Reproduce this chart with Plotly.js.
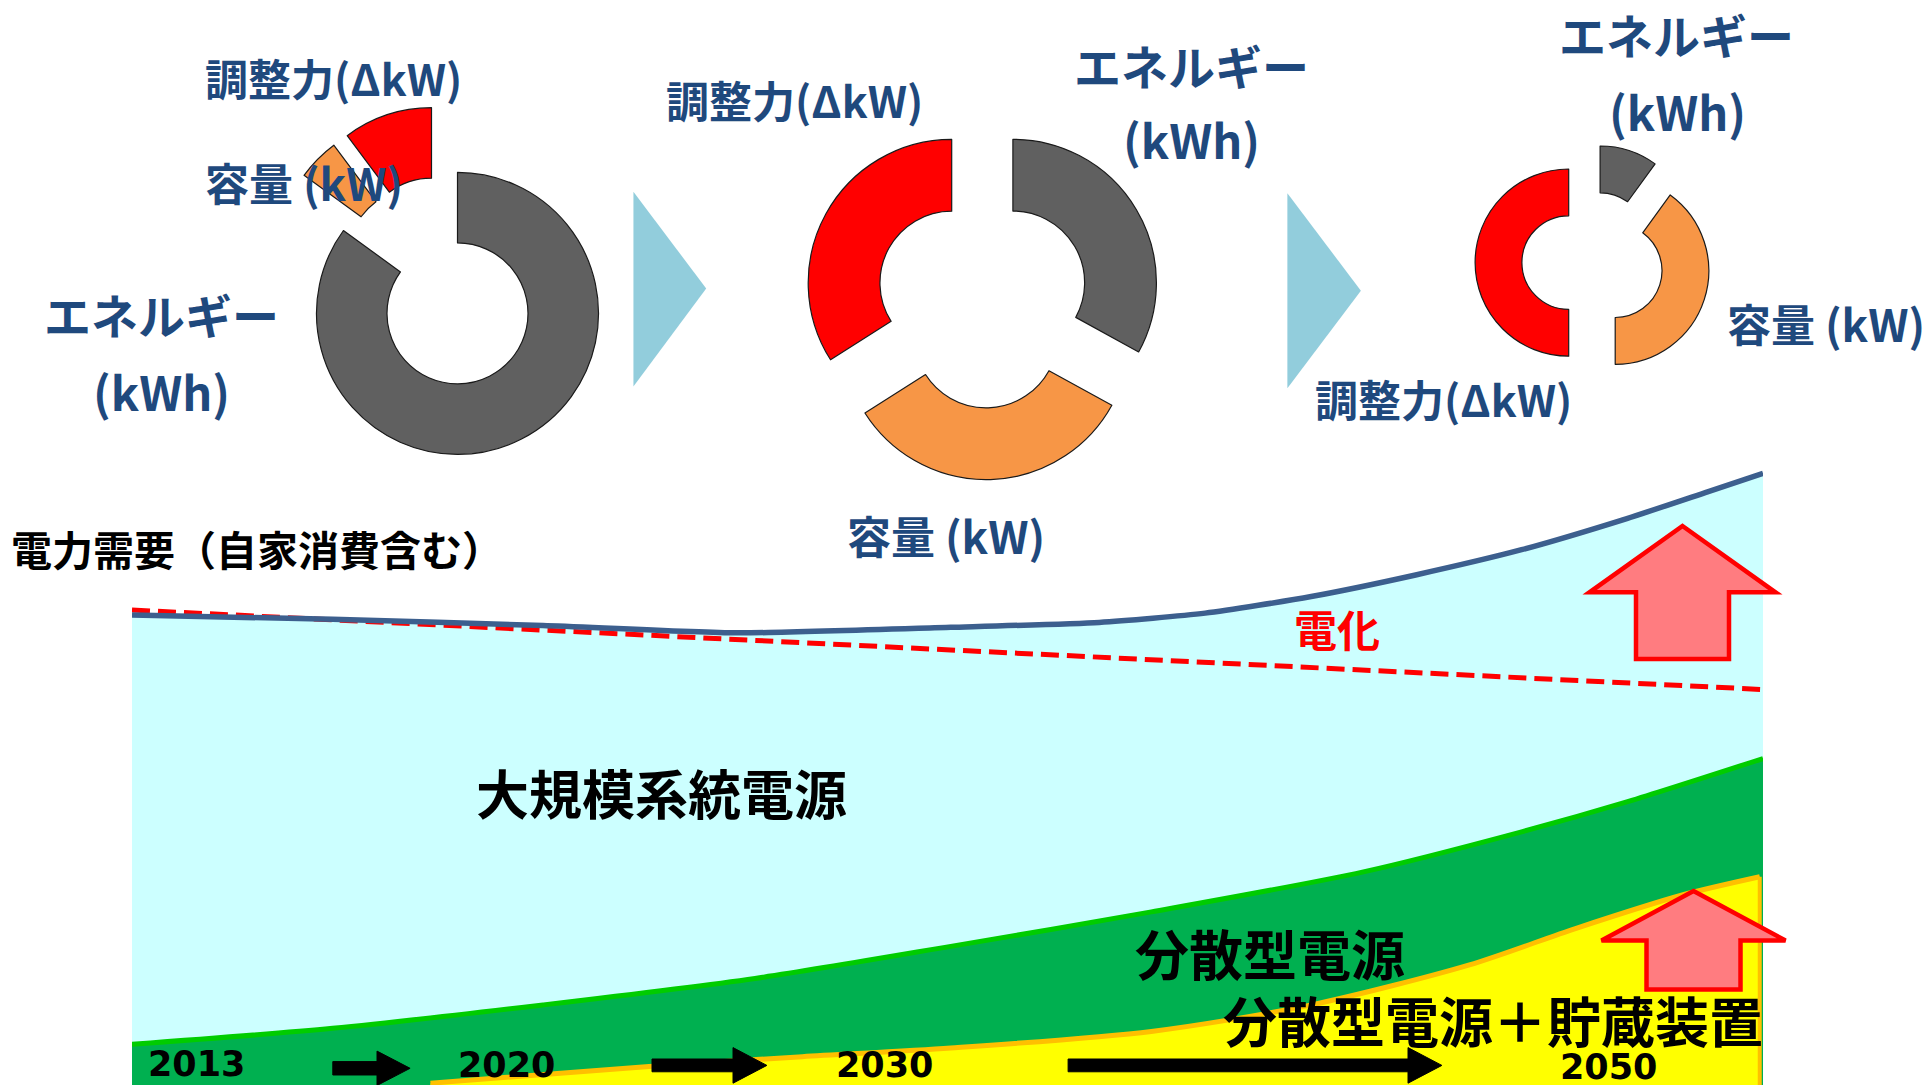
<!DOCTYPE html>
<html>
<head>
<meta charset="utf-8">
<script src="https://cdn.plot.ly/plotly-3.0.1.min.js"></script>
<style>
html,body{margin:0;padding:0;background:#ffffff;overflow:hidden}
#chart{width:1931px;height:1085px}
</style>
</head>
<body>
<div id="chart"></div>
<script>
// ---------------- data ----------------
const segmentNames = ['エネルギー(kWh)', '容量(kW)', '調整力(ΔkW)'];
const shares2013 = [85, 4.8, 10.2];
const shares2030 = [33, 33, 34];
const shares2050 = [10, 40, 50];

// electricity demand (incl. self-consumption), relative units, x = 0..100 progress 2013→2050
const demandX = [0, 12.3, 25.2, 37.1, 50.2, 59.3, 65.8, 72.3, 78.7, 85.2, 91.7, 96.6, 100];
const demandY = [76.3, 75.6, 74.6, 73.4, 74.3, 75.1, 76.6, 79.3, 82.8, 86.9, 92.0, 96.3, 99.3];
// demand without electrification (dashed)
const baselineX = [0, 50, 100];
const baselineY = [77.1, 70.6, 64.2];
// distributed generation (top of green band)
const distributedX = [0, 12.3, 25.2, 38.2, 50.2, 62.5, 75.5, 85.2, 91.7, 100];
const distributedY = [6.6, 9.2, 13.0, 17.3, 22.5, 28.1, 34.6, 41.1, 46.0, 53.0];
// distributed generation + storage (top of yellow band)
const storageX = [18.3, 31.7, 41.1, 50.2, 62.5, 72.3, 82.0, 88.5, 95.0, 99.8];
const storageY = [0.3, 3.0, 4.6, 6.0, 8.7, 13.0, 19.5, 25.4, 30.8, 33.8];

const yearLabels = ['2013', '2020', '2030', '2050'];

// ---------------- helpers ----------------
const W = 1931, H = 1085;
const fx = x => x / W;
const fy = y => 1 - y / H;

const segColors = ['#606060', '#F79646', '#FF0000'];

function segTrace(share, startDeg, cx, cy, R, hole, color, name) {
  return {
    type: 'pie', name: name,
    values: [share, 100 - share], sort: false, direction: 'clockwise',
    rotation: startDeg, hole: hole,
    marker: {colors: [color, 'rgba(0,0,0,0)'],
             line: {color: ['#1a1a1a', 'rgba(0,0,0,0)'], width: [1.2, 0]}},
    textinfo: 'none', hoverinfo: 'none', showlegend: false,
    domain: {x: [fx(cx - R), fx(cx + R)], y: [fy(cy + R), fy(cy - R)]}
  };
}

const donuts = [
  {shares: shares2013, R: 141, hole: 0.5, centers: [[457.5, 313.4], [418.1, 258.2], [431.5, 248.7]]},
  {shares: shares2030, R: 143.5, hole: 0.5, centers: [[1012.9, 282.8], [986.1, 336.1], [951.7, 282.9]]},
  {shares: shares2050, R: 93.6, hole: 0.5, centers: [[1600.1, 239.6], [1615.2, 270.7], [1568.7, 262.6]]}
];

const traces = [];

// area chart (lower part)
traces.push({x: demandX, y: demandY, type: 'scatter', mode: 'lines', fill: 'tozeroy',
  fillcolor: '#CCFFFF', line: {width: 0, color: 'rgba(0,0,0,0)', shape: 'spline', smoothing: 0.6},
  hoverinfo: 'skip', showlegend: false});
traces.push({x: distributedX, y: distributedY, type: 'scatter', mode: 'lines', fill: 'tozeroy',
  fillcolor: '#00B050', line: {width: 5, color: '#00CC00', shape: 'spline', smoothing: 0.8},
  hoverinfo: 'skip', showlegend: false});
traces.push({x: storageX, y: storageY, type: 'scatter', mode: 'lines', fill: 'tozeroy',
  fillcolor: '#FFFF00', line: {width: 5, color: '#FFC000', shape: 'spline', smoothing: 0.8},
  hoverinfo: 'skip', showlegend: false});
const sLast = storageX.length - 1;
traces.push({x: [storageX[sLast], storageX[sLast]], y: [0, storageY[sLast]], type: 'scatter', mode: 'lines',
  line: {width: 4, color: '#FFC000'}, hoverinfo: 'skip', showlegend: false});
traces.push({x: baselineX, y: baselineY, type: 'scatter', mode: 'lines',
  line: {width: 5, color: '#FF0000', dash: '18px,8px'}, hoverinfo: 'skip', showlegend: false});
traces.push({x: demandX, y: demandY, type: 'scatter', mode: 'lines',
  line: {width: 5.5, color: '#3C5F8E', shape: 'spline', smoothing: 0.6}, hoverinfo: 'skip', showlegend: false});

// donuts
donuts.forEach(d => {
  let cum = 0;
  d.shares.forEach((s, i) => {
    const c = d.centers[i];
    traces.push(segTrace(s, cum * 3.6, c[0], c[1], d.R, d.hole, segColors[i], segmentNames[i]));
    cum += s;
  });
});

// ---------------- shapes ----------------
function poly(pts) {
  return 'M' + pts.map(p => fx(p[0]).toFixed(5) + ',' + fy(p[1]).toFixed(5)).join(' L') + ' Z';
}
function rightArrow(x0, xh, tip, cy, sh, hh) {
  return poly([[x0, cy - sh], [xh, cy - sh], [xh, cy - hh], [tip, cy], [xh, cy + hh], [xh, cy + sh], [x0, cy + sh]]);
}
function upArrow(cx, tip, base, bottom, hw, sw) {
  return poly([[cx, tip], [cx + hw, base], [cx + sw, base], [cx + sw, bottom], [cx - sw, bottom], [cx - sw, base], [cx - hw, base]]);
}

const shapes = [
  {type: 'path', xref: 'paper', yref: 'paper', path: poly([[633.4, 191.8], [706.2, 288.5], [633.4, 386.4]]),
   fillcolor: '#92CDDC', line: {width: 0}},
  {type: 'path', xref: 'paper', yref: 'paper', path: poly([[1287.4, 193.3], [1360.9, 290.7], [1287.4, 388.3]]),
   fillcolor: '#92CDDC', line: {width: 0}},
  {type: 'path', xref: 'paper', yref: 'paper', path: rightArrow(332.8, 377, 410.1, 1068.3, 6.7, 17.2),
   fillcolor: '#000000', line: {width: 1, color: '#000000'}},
  {type: 'path', xref: 'paper', yref: 'paper', path: rightArrow(652, 733, 766.9, 1065.4, 6.4, 17.8),
   fillcolor: '#000000', line: {width: 1, color: '#000000'}},
  {type: 'path', xref: 'paper', yref: 'paper', path: rightArrow(1068.1, 1408, 1441.9, 1065.4, 6.4, 17.8),
   fillcolor: '#000000', line: {width: 1, color: '#000000'}},
  {type: 'path', xref: 'paper', yref: 'paper', path: upArrow(1682.5, 526, 592.3, 659, 93, 46.5),
   fillcolor: '#FF7C80', line: {width: 4.5, color: '#FF0000'}},
  {type: 'path', xref: 'paper', yref: 'paper', path: upArrow(1693.5, 891, 940.5, 989.5, 92, 47),
   fillcolor: '#FF7C80', line: {width: 4.5, color: '#FF0000'}}
];

// ---------------- annotations ----------------
const cjk = 'Noto Sans CJK JP, Noto Sans CJK SC, sans-serif';
const navy = '#1F497D';
function ann(text, x, y, size, color, family) {
  return {text: '<b>' + text + '</b>', x: fx(x), y: fy(y), xref: 'paper', yref: 'paper',
    xanchor: 'center', yanchor: 'middle', showarrow: false,
    font: {family: family || cjk, size: size, color: color}};
}
const annotations = [
  ann('調整力(ΔkW)', 333, 77, 43, navy),
  ann('容量 (kW)', 303.5, 182, 44, navy),
  ann('エネルギー', 161.8, 314, 47, navy),
  ann('(kWh)', 161.8, 390, 47, navy),
  ann('調整力(ΔkW)', 794.8, 99, 43, navy),
  ann('エネルギー', 1191.4, 65, 47, navy),
  ann('(kWh)', 1191.5, 139, 47, navy),
  ann('容量 (kW)', 945.9, 534.7, 44, navy),
  ann('エネルギー', 1676.7, 34, 47, navy),
  ann('(kWh)', 1677.4, 110, 47, navy),
  ann('容量 (kW)', 1825.5, 322.5, 44, navy),
  ann('調整力(ΔkW)', 1443.3, 398, 43, navy),
  ann('電力需要（自家消費含む）', 257.3, 548.4, 41, '#000000'),
  ann('大規模系統電源', 661.8, 791.7, 53, '#000000'),
  ann('電化', 1337, 628.3, 43, '#FF0000'),
  ann('分散型電源', 1270, 952.5, 54, '#000000'),
  ann('分散型電源＋貯蔵装置', 1492.7, 1019.2, 54, '#000000'),
  ann(yearLabels[0], 196.5, 1063.8, 35, '#000000', 'DejaVu Sans, sans-serif'),
  ann(yearLabels[1], 506.2, 1064.7, 35, '#000000', 'DejaVu Sans, sans-serif'),
  ann(yearLabels[2], 884.2, 1064.7, 35, '#000000', 'DejaVu Sans, sans-serif'),
  ann(yearLabels[3], 1608.3, 1066.5, 35, '#000000', 'DejaVu Sans, sans-serif')
];

const layout = {
  width: W, height: H,
  margin: {l: 0, r: 0, t: 0, b: 0, pad: 0},
  paper_bgcolor: '#ffffff', plot_bgcolor: 'rgba(0,0,0,0)',
  showlegend: false,
  xaxis: {domain: [132 / W, 1763 / W], range: [0, 100], visible: false, fixedrange: true},
  yaxis: {domain: [0, (H - 469) / H], range: [0, 100], visible: false, fixedrange: true},
  shapes: shapes,
  annotations: annotations
};

Plotly.newPlot('chart', traces, layout, {displayModeBar: false, staticPlot: true});
</script>
</body>
</html>
